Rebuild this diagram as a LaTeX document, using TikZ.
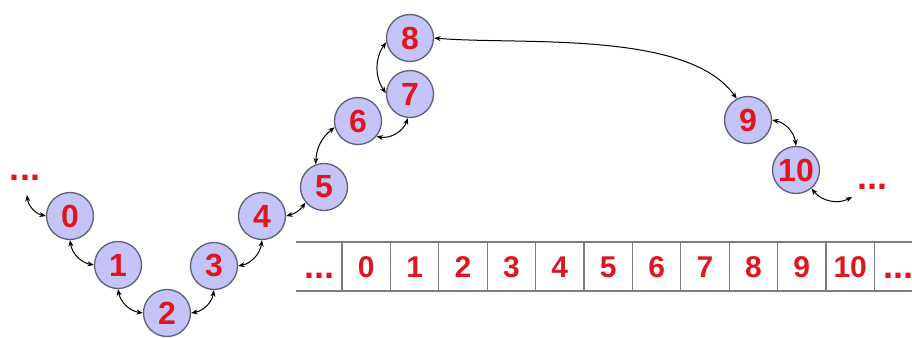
\documentclass[tikz,border=0pt]{standalone}
\usepackage{fontspec}
\setmainfont{Liberation Sans}
\usetikzlibrary{arrows.meta}
\definecolor{nodefill}{RGB}{196,196,246}
\definecolor{nodeline}{RGB}{95,95,120}
\definecolor{numred}{RGB}{222,22,32}
\definecolor{gridgray}{RGB}{125,125,125}
\begin{document}
\begin{tikzpicture}[x=1pt,y=1pt,
  elem/.style={circle,draw=nodeline,line width=1.3pt,fill=nodefill,minimum size=47pt,inner sep=0pt,text=numred,font=\fontsize{32}{32}\selectfont\bfseries},
  link/.style={{Stealth[length=6.5pt,width=5pt]}-{Stealth[length=6.5pt,width=5pt]},line width=1pt,black},
  dots/.style={text=numred,font=\fontsize{36}{36}\selectfont\bfseries,inner sep=0pt},
  cell/.style={text=numred,font=\fontsize{30}{30}\selectfont\bfseries,inner sep=0pt,anchor=base},
  grid/.style={draw=gridgray,line width=1.3pt}
]
\useasboundingbox (0,0) rectangle (912,-337);
\clip (0,0) rectangle (912,-337);
% array
\draw[grid] (296,-242) -- (912,-242);
\draw[grid] (296,-291) -- (912,-291);
\foreach \k in {0,...,11}{
  \draw[grid] ({342+48.4*\k},-242) -- ({342+48.4*\k},-291);
}
\node[cell,font=\fontsize{36}{36}\selectfont\bfseries] (aL) at (319,-278) {...};
\foreach \k in {0,...,10}{
  \node[cell] (a\k) at ({342+48.4*(\k+0.5)},-277) {\k};
}
\node[cell,anchor=base west,font=\fontsize{36}{36}\selectfont\bfseries] (aR) at (883,-278) {...};
% list nodes
\node[elem] (n0) at (70,-216) {0};
\node[elem] (n1) at (118,-265) {1};
\node[elem] (n2) at (167,-313) {2};
\node[elem] (n3) at (214,-266) {3};
\node[elem] (n4) at (262,-216) {4};
\node[elem] (n5) at (324,-187) {5};
\node[elem] (n6) at (358,-121) {6};
\node[elem] (n7) at (410,-94) {7};
\node[elem] (n8) at (410,-38) {8};
\node[elem] (n9) at (748,-120) {9};
\node[elem] (n10) at (796,-170) {10};
\node[dots] (dL) at (25,-178) {...};
\node[dots] (dR) at (872,-187) {...};
\coordinate (eL) at (27,-195);
\coordinate (eR) at (852,-197);
% links
\draw[link] (eL) to[bend right=35] (n0.west);
\draw[link] (n0.south) to[bend right=35] (n1.west);
\draw[link] (n1.south) to[bend right=35] (n2.west);
\draw[link] (n2.east) to[bend right=35] (n3.south);
\draw[link] (n3.east) to[bend right=35] (n4.south);
\draw[link] (n4.east) to[bend right=20] (n5.220);
\draw[link] (n5.110) to[bend left=25] (n6.195);
\draw[link] (n6.-40) to[bend right=40] (n7.-95);
\draw[link] (n7.178) to[bend left=35] (n8.190);
\draw[link] (n8.east) to[out=-5,in=125,looseness=0.7] (n9.118);
\draw[link] (n9.east) to[bend left=35] (n10.north);
\draw[link] (n10.-50) to[bend right=40] (eR);
\end{tikzpicture}
\end{document}
